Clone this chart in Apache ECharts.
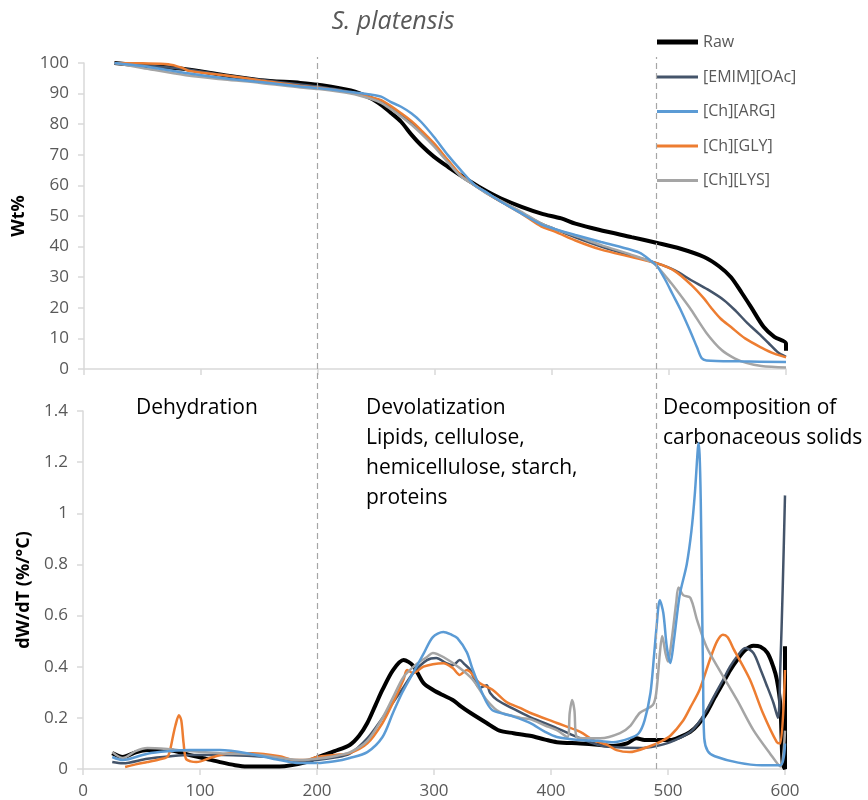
<!DOCTYPE html>
<html>
<head>
<meta charset="utf-8">
<script src="https://cdn.jsdelivr.net/npm/echarts@6/dist/echarts.min.js"></script>
<style>
  html, body { margin: 0; padding: 0; background: #fff; }
  #chart { width: 868px; height: 800px; }
</style>
</head>
<body>
<div id="chart"></div>
<script>
// series names and colours
const seriesNames = ['Raw', '[EMIM][OAc]', '[Ch][ARG]', '[Ch][GLY]', '[Ch][LYS]']
const seriesColors = ['#000000', '#44546a', '#5b9bd5', '#ed7d31', '#a5a5a5']
const seriesWidths = [4, 2.5, 2.5, 2.5, 2.5]

// region boundaries (°C)
const boundaries = [200, 490]

// TGA: [temperature °C, wt%]
const tgaRaw = [[26,100],[50,99.2],[87,98],[120,96],[151,94.4],[185,93.5],[200,92.9],[228,91],[245,88.5],[254,86.3],[263,83.5],[271,80.8],[280,76.5],[288,73.2],[299,69.4],[311,66.1],[328,61.8],[345,57.9],[356,55.8],[374,53],[391,50.8],[408,49.2],[420,47.5],[440,45.5],[468,43.1],[490,41.2],[510,39.3],[530,36.6],[543,33.5],[553,30],[562,25],[570,20.3],[581,13.7],[590,10.5],[600,8.3],[600,6]]
const tgaEmim = [[26,100],[50,99.3],[87,98],[120,96],[151,94.5],[185,93],[200,92.3],[228,90.5],[245,88.8],[254,87.5],[262,85.5],[271,83],[280,80.5],[288,77.5],[299,73.3],[311,68],[322,63.2],[334,60],[345,57.3],[355,55],[373,51.3],[391,47.5],[402,45.8],[420,43],[442,40],[468,37],[490,34.5],[505,32.2],[519,29],[533,26],[547,22.5],[557,19],[567,15],[577,11.5],[585,8.5],[593,5.5],[600,4]]
const tgaArg = [[26,100],[50,99],[87,96.7],[120,95],[151,93.8],[185,92.3],[200,91.8],[228,90.5],[245,89.7],[254,89],[262,87.3],[271,85.7],[280,83.5],[288,80.8],[299,75.9],[311,69.9],[322,65],[334,60.1],[345,57.5],[355,55],[373,51],[391,47.2],[402,45.8],[420,43.8],[442,41.5],[468,38.9],[476,37.8],[484,35.5],[490,33.5],[497,29],[503,24.5],[510,19.3],[518,12.5],[524,7],[528,3.5],[532,2.8],[560,2.5],[600,2.3]]
const tgaGly = [[26,100],[50,99.9],[72,99.6],[84,98.4],[90,97.4],[120,96],[151,94.3],[185,92.5],[200,92],[228,90.3],[245,88.8],[254,87.9],[262,86],[271,83.6],[280,81],[288,78.1],[299,73.8],[311,68.3],[322,63.4],[334,60.1],[345,57.3],[355,55],[373,51],[391,46.5],[402,45],[420,42],[442,39],[468,36.6],[490,34.5],[505,32],[519,27.5],[530,23],[536,20],[544,16.5],[553,13.7],[565,10],[579,7],[590,5],[600,3.8]]
const tgaLys = [[26,100],[50,98.4],[87,96],[120,94.6],[151,93.5],[185,92],[200,91.5],[228,90],[245,88.3],[254,87],[262,85],[271,82.5],[280,79.8],[288,77],[299,72.8],[311,67.5],[322,63],[334,60],[345,57.2],[355,55.2],[373,51.5],[391,47.5],[402,45.8],[420,43.5],[442,40.5],[468,37.3],[485,35],[490,33.5],[502,28],[510,24],[519,19.3],[532,11.8],[545,6.2],[556,3.5],[566,2],[579,1],[600,0.5]]

// DTG: [temperature °C, dW/dT]
const dtgRaw = [[25,0.062],[34,0.047],[45,0.065],[55,0.074],[72,0.074],[91,0.055],[105,0.04],[117,0.027],[130,0.015],[140,0.01],[168,0.01],[191,0.027],[200,0.045],[215,0.07],[228,0.094],[236,0.13],[243,0.18],[250,0.25],[256,0.31],[265,0.387],[274,0.426],[282,0.405],[291,0.336],[299,0.31],[307,0.29],[316,0.27],[323,0.245],[331,0.22],[345,0.18],[356,0.15],[368,0.14],[382,0.13],[395,0.115],[405,0.105],[425,0.1],[440,0.095],[453,0.09],[465,0.1],[473,0.12],[480,0.113],[502,0.113],[510,0.125],[519,0.145],[526,0.175],[533,0.22],[540,0.28],[547,0.336],[553,0.385],[559,0.426],[566,0.465],[573,0.482],[579,0.478],[585,0.454],[590,0.4],[593,0.35],[596,0.25],[598,0.02],[600,0],[600,0.48]]
const dtgEmim = [[25,0.027],[34,0.022],[55,0.04],[75,0.05],[91,0.055],[120,0.055],[140,0.052],[165,0.045],[185,0.03],[200,0.035],[215,0.045],[228,0.06],[243,0.12],[256,0.2],[265,0.26],[274,0.32],[283,0.38],[294,0.426],[302,0.434],[310,0.415],[316,0.406],[322,0.426],[326,0.41],[331,0.387],[339,0.317],[345,0.328],[348,0.297],[354,0.27],[368,0.235],[382,0.203],[405,0.16],[425,0.12],[440,0.095],[453,0.086],[476,0.082],[490,0.09],[502,0.105],[519,0.145],[526,0.18],[533,0.23],[540,0.29],[547,0.348],[553,0.4],[559,0.44],[566,0.473],[573,0.454],[579,0.39],[585,0.32],[590,0.26],[594,0.2],[596,0.4],[598,0.7],[600,1.07]]
const dtgArg = [[25,0.047],[34,0.035],[55,0.06],[75,0.07],[91,0.074],[117,0.074],[140,0.062],[168,0.035],[185,0.023],[200,0.023],[215,0.03],[228,0.043],[243,0.066],[256,0.125],[265,0.22],[273,0.3],[282,0.375],[291,0.45],[299,0.516],[308,0.536],[315,0.525],[320,0.512],[328,0.457],[333,0.39],[339,0.32],[345,0.26],[350,0.23],[360,0.215],[368,0.205],[382,0.18],[395,0.145],[405,0.125],[425,0.113],[440,0.11],[453,0.105],[467,0.12],[475,0.14],[480,0.19],[485,0.297],[488,0.44],[490,0.544],[493,0.66],[496,0.61],[499,0.477],[502,0.415],[505,0.5],[510,0.68],[516,0.8],[520,0.93],[523,1.08],[525,1.22],[526,1.275],[527,1.23],[528,1.05],[529,0.7],[530,0.35],[531,0.12],[534,0.07],[540,0.05],[560,0.025],[580,0.015],[596,0.015],[600,0.1]]
const dtgGly = [[36,0.008],[45,0.018],[55,0.027],[65,0.037],[72,0.047],[74,0.066],[77,0.13],[79,0.17],[82,0.21],[84,0.19],[86,0.1],[88,0.04],[92,0.03],[97,0.027],[111,0.047],[126,0.062],[145,0.062],[168,0.05],[180,0.035],[190,0.035],[200,0.047],[215,0.055],[228,0.062],[243,0.1],[256,0.18],[265,0.26],[274,0.35],[277,0.387],[282,0.375],[291,0.4],[299,0.41],[308,0.414],[316,0.395],[322,0.368],[328,0.387],[339,0.336],[350,0.31],[362,0.262],[374,0.238],[382,0.22],[405,0.18],[425,0.145],[436,0.113],[448,0.094],[456,0.074],[467,0.066],[485,0.09],[495,0.11],[502,0.13],[513,0.19],[519,0.24],[527,0.31],[536,0.43],[542,0.5],[547,0.525],[551,0.515],[556,0.47],[570,0.35],[581,0.22],[593,0.105],[596,0.1],[600,0.387]]
const dtgLys = [[25,0.066],[34,0.043],[45,0.07],[55,0.082],[72,0.078],[91,0.07],[117,0.062],[151,0.055],[185,0.035],[200,0.04],[215,0.05],[228,0.065],[243,0.11],[256,0.2],[265,0.28],[274,0.36],[285,0.41],[294,0.438],[299,0.454],[308,0.438],[322,0.395],[333,0.35],[345,0.27],[356,0.223],[374,0.2],[382,0.195],[395,0.17],[405,0.152],[414,0.125],[416,0.22],[418,0.27],[420,0.23],[422,0.125],[430,0.12],[442,0.12],[459,0.14],[468,0.17],[476,0.22],[487,0.25],[490,0.3],[493,0.45],[495,0.52],[498,0.45],[500,0.42],[503,0.5],[507,0.65],[509,0.71],[513,0.68],[519,0.67],[525,0.58],[533,0.477],[544,0.387],[559,0.27],[573,0.152],[587,0.062],[596,0.01],[600,0.15]]

const tgaData = [tgaRaw, tgaEmim, tgaArg, tgaGly, tgaLys]
const dtgData = [dtgRaw, dtgEmim, dtgArg, dtgGly, dtgLys]

const FONT = 'Open Sans'
const labelColor = '#595959'
const axisColor = '#d9d9d9'

const chart = echarts.init(document.getElementById('chart'))

const xAxisBase = {
  type: 'value',
  min: 0,
  max: 600,
  interval: 100,
  splitLine: { show: false },
  axisLine: { lineStyle: { color: axisColor, width: 1.5 } },
  axisTick: { show: true, length: 6, lineStyle: { color: axisColor, width: 1.5 } }
}

const yAxisBase = {
  type: 'value',
  min: 0,
  splitLine: { show: false },
  nameLocation: 'middle',
  nameTextStyle: { color: '#000', fontFamily: FONT, fontWeight: 'bold', fontSize: 18 },
  axisLine: { show: true, lineStyle: { color: axisColor, width: 1.5 } },
  axisTick: { show: true, length: 6, lineStyle: { color: axisColor, width: 1.5 } },
  axisLabel: { color: labelColor, fontFamily: FONT, fontSize: 17, margin: 15 }
}

const makeLine = (name, i, data, axisIdx) => ({
  name,
  type: 'line',
  xAxisIndex: axisIdx,
  yAxisIndex: axisIdx,
  data,
  symbol: 'none',
  smooth: 0.3,
  z: i === 2 ? 3 : 2,
  lineStyle: { color: seriesColors[i], width: seriesWidths[i] },
  itemStyle: { color: seriesColors[i] }
})

const series = []
seriesNames.forEach((name, i) => series.push(makeLine(name, i, tgaData[i], 0)))
seriesNames.forEach((name, i) => series.push(makeLine(name, i, dtgData[i], 1)))

// dashed boundary lines spanning both panels
series.push({
  type: 'line',
  xAxisIndex: 2,
  yAxisIndex: 2,
  data: [[0, 0], [600, 0]],
  symbol: 'none',
  lineStyle: { opacity: 0 },
  silent: true,
  markLine: {
    symbol: 'none',
    silent: true,
    label: { show: false },
    lineStyle: { color: '#a6a6a6', type: [6, 4], width: 1.2 },
    data: boundaries.map(b => ({ xAxis: b }))
  }
})

const legendText = { color: labelColor, fontFamily: FONT, fontSize: 16, lineHeight: 20 }

const option = {
  backgroundColor: '#fff',
  animation: false,
  title: {
    text: 'S. platensis',
    left: 393,
    top: 9,
    padding: 0,
    textAlign: 'center',
    textStyle: { color: labelColor, fontFamily: FONT, fontStyle: 'italic', fontWeight: 'normal', fontSize: 25 }
  },
  legend: [
    {
      data: seriesNames.slice(0, 1),
      orient: 'vertical',
      left: 657,
      top: 32,
      padding: 0,
      icon: 'rect',
      itemWidth: 41,
      itemHeight: 5,
      textStyle: legendText
    },
    {
      data: seriesNames.slice(1),
      orient: 'vertical',
      left: 657,
      top: 67,
      padding: 0,
      icon: 'rect',
      itemWidth: 41,
      itemHeight: 3,
      itemGap: 14.5,
      textStyle: legendText
    }
  ],
  grid: [
    { left: 84, right: 82, top: 63, height: 306 },
    { left: 83, right: 83, top: 411, height: 358 },
    { left: 83, right: 83, top: 57, bottom: 31 }
  ],
  xAxis: [
    { ...xAxisBase, gridIndex: 0, axisLabel: { show: false } },
    { ...xAxisBase, gridIndex: 1, axisLabel: { color: labelColor, fontFamily: FONT, fontSize: 17, margin: 14 } },
    { type: 'value', gridIndex: 2, min: 0, max: 600, show: false }
  ],
  yAxis: [
    { ...yAxisBase, gridIndex: 0, max: 100, interval: 10, name: 'Wt%', nameGap: 56 },
    { ...yAxisBase, gridIndex: 1, max: 1.4, interval: 0.2, name: 'dW/dT (%/°C)', nameGap: 48 },
    { type: 'value', gridIndex: 2, min: 0, max: 1, show: false }
  ],
  graphic: [
    { type: 'text', left: 136, top: 393, style: { text: 'Dehydration', fill: '#000', font: '21px "Open Sans"', lineHeight: 30 } },
    { type: 'text', left: 366, top: 393, style: { text: 'Devolatization\nLipids, cellulose,\nhemicellulose, starch,\nproteins', fill: '#000', font: '21px "Open Sans"', lineHeight: 30 } },
    { type: 'text', left: 663, top: 393, style: { text: 'Decomposition of\ncarbonaceous solids', fill: '#000', font: '21px "Open Sans"', lineHeight: 30 } }
  ],
  series
}

chart.setOption(option)
</script>
</body>
</html>
